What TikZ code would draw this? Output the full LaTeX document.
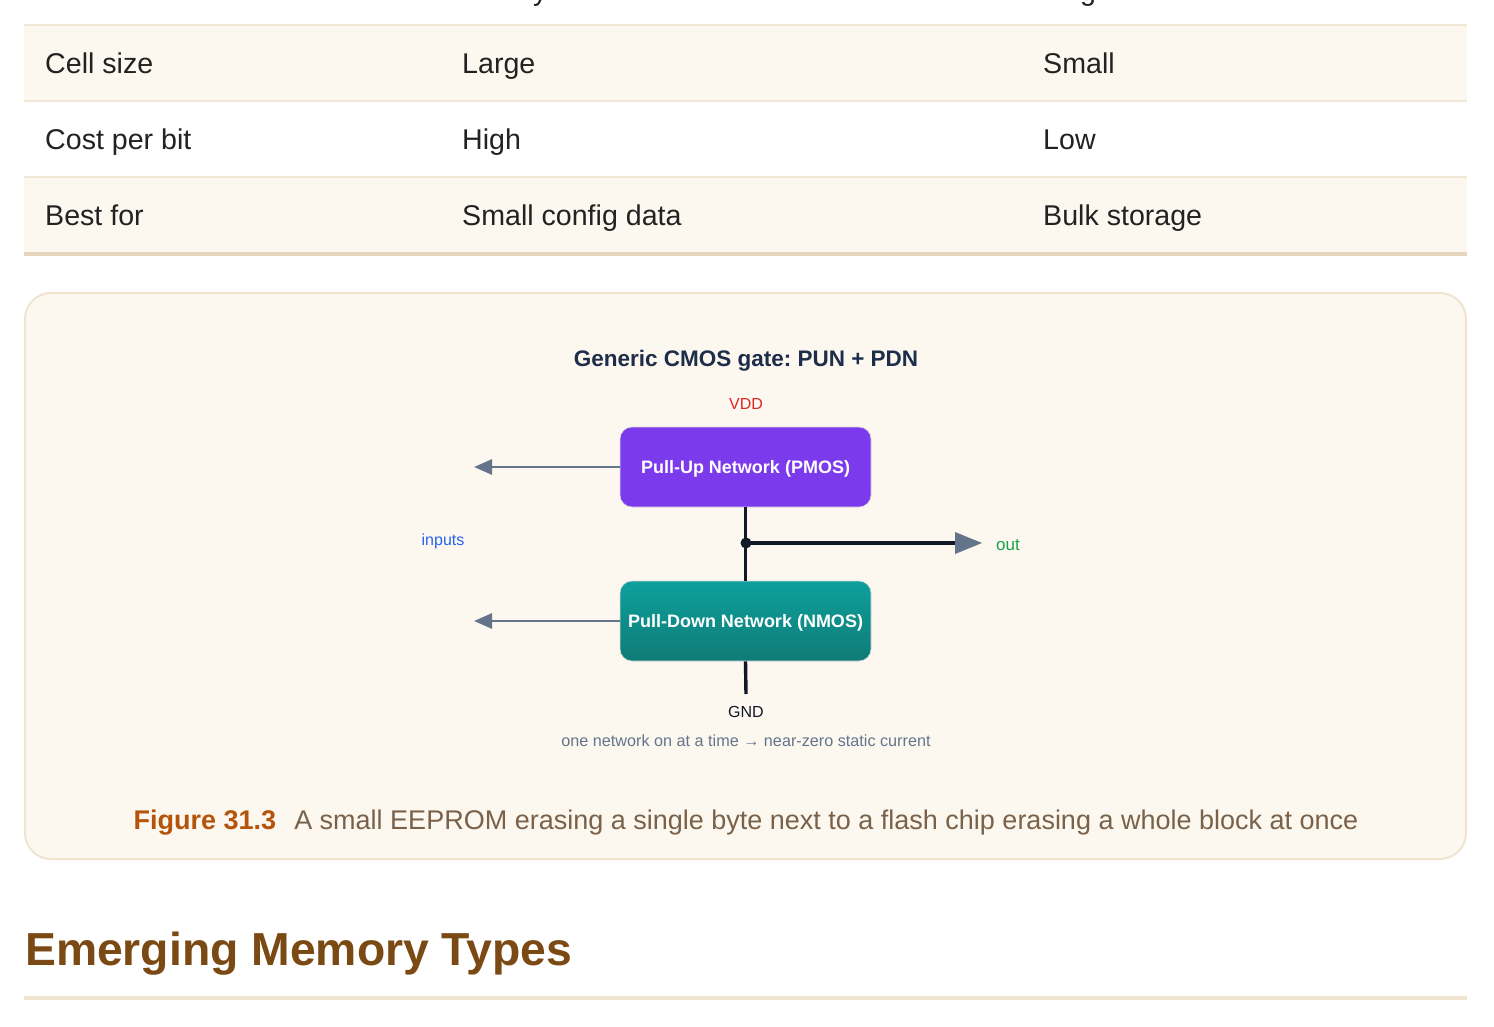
\documentclass[tikz,border=0pt]{standalone}
\usepackage{fontspec}
\setmainfont{Liberation Sans}
\usetikzlibrary{arrows.meta}
\frenchspacing
\definecolor{rowbg}{HTML}{FCF8EF}
\definecolor{rowline}{HTML}{F2E8D8}
\definecolor{thickline}{HTML}{E6D6BD}
\definecolor{figbg}{HTML}{FCF8F0}
\definecolor{figborder}{HTML}{F0E4D0}
\definecolor{bodytext}{HTML}{222222}
\definecolor{titlecol}{HTML}{1E2D4A}
\definecolor{pun}{HTML}{7C3AED}
\definecolor{pdntop}{HTML}{0EA09C}
\definecolor{pdnbot}{HTML}{0F7B77}
\definecolor{wire}{HTML}{111827}
\definecolor{slatecol}{HTML}{64748B}
\definecolor{vddcol}{HTML}{DC2626}
\definecolor{outcol}{HTML}{16A34A}
\definecolor{inpcol}{HTML}{2563EB}
\definecolor{figlabel}{HTML}{B45309}
\definecolor{captext}{HTML}{7A6149}
\definecolor{headcol}{HTML}{7B4A14}
\tikzset{
  celltext/.style={anchor=base west, inner sep=0pt, text=bodytext, font=\fontsize{28.6}{32}\selectfont},
  netbox/.style={rounded corners=12pt, minimum width=251pt, minimum height=80pt, text=white,
     font=\fontsize{18}{22}\selectfont\bfseries, inner sep=0pt, text height=12.9pt, text depth=0pt,
     draw=white!85!black, line width=0.6pt},
  smalllabel/.style={anchor=base, inner sep=0pt, font=\fontsize{16}{19}\selectfont},
  wireline/.style={draw=wire, line width=3.4pt},
  inarrow/.style={draw=slatecol, line width=2.8pt, -{Triangle[length=18pt,width=15pt]}},
}
\begin{document}
\begin{tikzpicture}[x=1pt,y=-1pt]
\useasboundingbox (0,0) rectangle (1494,1026);
\fill[white] (0,0) rectangle (1494,1026);
% cut-off header descenders
\begin{scope}
\clip (0,0) rectangle (1494,10);
\node[celltext] (hy) at (533,0) {y};
\node[celltext] (hg) at (1080,0) {g};
\end{scope}
% table
\fill[rowbg] (24,26) rectangle (1467,100);
\fill[rowbg] (24,178) rectangle (1467,252);
\draw[rowline, line width=2pt] (24,25) -- (1467,25);
\draw[rowline, line width=2pt] (24,101) -- (1467,101);
\draw[rowline, line width=2pt] (24,177) -- (1467,177);
\draw[thickline, line width=4pt] (24,254) -- (1467,254);
\node[celltext] (r1a) at (45,73) {Cell size};
\node[celltext] (r1b) at (462,73) {Large};
\node[celltext] (r1c) at (1043,73) {Small};
\node[celltext] (r2a) at (45,149) {Cost per bit};
\node[celltext] (r2b) at (462,149) {High};
\node[celltext] (r2c) at (1043,149) {Low};
\node[celltext] (r3a) at (45,225) {Best for};
\node[celltext] (r3b) at (462,225) {Small config data};
\node[celltext] (r3c) at (1043,225) {Bulk storage};
% figure box
\draw[figborder, fill=figbg, line width=2pt, rounded corners=26pt] (25,293) rectangle (1466,859);
\node[anchor=base, inner sep=0pt, text=titlecol, font=\fontsize{22.5}{26}\selectfont\bfseries] (title) at (746,366) {Generic CMOS gate: PUN + PDN};
\node[smalllabel, text=vddcol] (vdd) at (746,409) {VDD};
\node[netbox, fill=pun] (pun) at (745.5,467) {Pull-Up Network (PMOS)};
\node[netbox, top color=pdntop, bottom color=pdnbot] (pdn) at (745.5,621) {Pull-Down Network (NMOS)};
\coordinate (junc) at (746,543);
\coordinate (gndend) at (746,694);
\coordinate (outend) at (982,543);
\coordinate (in1) at (474,467);
\coordinate (in2) at (474,621);
\draw[wireline] (pun.south) -- (pdn.north);
\draw[wireline] (pdn.south) -- (gndend);
\fill[wire] (junc) circle (5.5pt);
\draw[wireline] (junc) -- (960,543);
\fill[slatecol] (outend) -- (955,532) -- (955,554) -- cycle;
\draw[inarrow] (pun.west) -- (in1);
\draw[inarrow] (pdn.west) -- (in2);
\node[anchor=base west, inner sep=0pt, text=outcol, font=\fontsize{17}{20}\selectfont] (out) at (996,550) {out};
\node[smalllabel, text=inpcol] (inputs) at (443,545) {inputs};
\node[smalllabel, text=wire] (gnd) at (746,717) {GND};
\node[anchor=base, inner sep=0pt, text=slatecol, font=\fontsize{16.2}{19}\selectfont] (note) at (746,746) {one network on at a time → near-zero static current};
\node[anchor=base, inner sep=0pt, font=\fontsize{27}{32}\selectfont] (caption) at (746,829) {\textcolor{figlabel}{\bfseries Figure 31.3}\hspace{18pt}\textcolor{captext}{A small EEPROM erasing a single byte next to a flash chip erasing a whole block at once}};
% heading
\node[anchor=base west, inner sep=0pt, text=headcol, font=\fontsize{46.3}{52}\selectfont\bfseries] (heading) at (25,965) {Emerging Memory Types};
\draw[figborder, line width=4pt] (24,998) -- (1467,998);
\end{tikzpicture}
\end{document}
